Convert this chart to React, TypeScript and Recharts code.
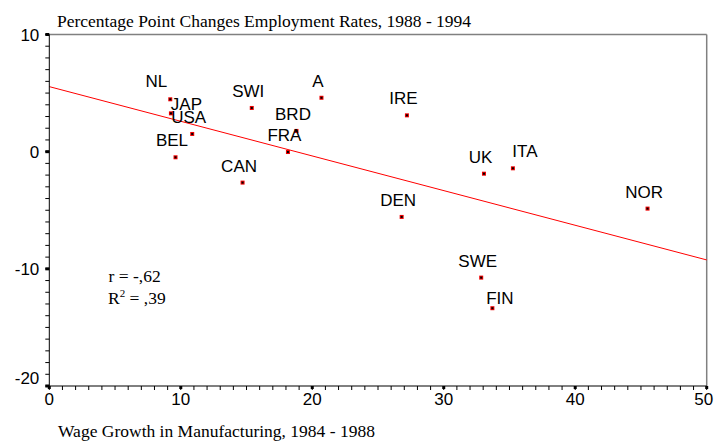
import { ReferenceLine, Scatter, ScatterChart, XAxis, YAxis } from 'recharts';

const countries = ['NL', 'JAP', 'USA', 'BEL', 'SWI', 'A', 'BRD', 'FRA', 'CAN', 'IRE', 'DEN', 'UK', 'ITA', 'SWE', 'FIN', 'NOR'];
const wageGrowth = [9.2, 9.25, 10.87, 9.6, 15.4, 20.7, 18.8, 18.15, 14.7, 27.2, 26.8, 33.06, 35.26, 32.85, 33.7, 45.5];
const employmentChange = [4.47, 3.27, 1.51, -0.48, 3.73, 4.6, 1.77, -0.03, -2.64, 3.1, -5.57, -1.88, -1.42, -10.75, -13.36, -4.86];

// fitted line as drawn in the source, read at both ends
const fitLine = [
    { x: 0, y: 5.55 },
    { x: 50, y: -9.24 },
];

const xTicks = Array.from({ length: 51 }, (_, i) => i);
const yTicks = Array.from({ length: 31 }, (_, i) => i - 20);

const points = countries.map((name, i) => ({ name, x: wageGrowth[i], y: employmentChange[i] }));

const SANS = '"Liberation Sans", Arial, sans-serif';
const SERIF = '"Liberation Serif", "Times New Roman", serif';

// where the label sits relative to its marker
const labelNudge: Record<string, [number, number]> = {
    NL: [-14, -12.5],
    JAP: [15.5, -3],
    ITA: [12, -11],
    FIN: [7.5, -4.5],
};

function Marker(props: any) {
    const { cx, cy, payload } = props;
    const [dx, dy] = labelNudge[payload.name] ?? [-3.5, -11];
    return (
        <g>
            <text x={cx + dx} y={cy + dy} textAnchor="middle" fontFamily={SANS} fontSize={17} fill="#000">
                {payload.name}
            </text>
            <rect x={cx - 2} y={cy - 2} width={4} height={4} fill="#f00000" />
            <rect x={cx - 1} y={cy - 1} width={2} height={2} fill="#000" />
        </g>
    );
}

function YTick(props: any) {
    const { x, y, payload } = props;
    if (payload.value % 10 !== 0) return null;
    // bottom label sits a bit above its tick, as in the source
    const lift = payload.value === -20 ? -8 : 0;
    return (
        <g>
            <rect x={x + 6} y={y - 1.5} width={4} height={3} fill="#000" />
            <text x={x} y={y + lift} dy="0.355em" textAnchor="end" fontFamily={SANS} fontSize={17} fill="#000">
                {payload.value}
            </text>
        </g>
    );
}

function XTick(props: any) {
    const { x, y, payload } = props;
    if (payload.value % 10 !== 0) return null;
    // the last label is pulled in a little so it stays inside the frame
    const shift = payload.value === 50 ? -3 : 0;
    return (
        <g>
            <rect x={x - 1.5} y={y - 7} width={3} height={3} fill="#000" />
            <text x={x + shift} y={y} dy="0.71em" textAnchor="middle" fontFamily={SANS} fontSize={17} fill="#000">
                {payload.value}
            </text>
        </g>
    );
}

const serifText = { position: 'absolute' as const, fontFamily: SERIF, fontSize: 17.5, whiteSpace: 'nowrap' as const };

export default function App() {
    return (
        <div style={{ position: 'fixed', left: 0, top: 0, width: 714, height: 441, background: '#fff', overflow: 'hidden' }}>
            <div style={{ ...serifText, left: 57, top: 10.5 }}>Percentage Point Changes Employment Rates, 1988 - 1994</div>
            <ScatterChart width={714} height={441} margin={{ top: 34.5, right: 7.3, bottom: 25, left: 0 }}>
                <XAxis
                    type="number"
                    dataKey="x"
                    domain={[0, 50]}
                    ticks={xTicks}
                    interval={0}
                    allowDataOverflow
                    height={30}
                    axisLine={{ stroke: '#000' }}
                    tickLine={{ stroke: '#000' }}
                    tickSize={4}
                    tickMargin={3}
                    tick={<XTick />}
                />
                <YAxis
                    type="number"
                    dataKey="y"
                    domain={[-20, 10]}
                    ticks={yTicks}
                    interval={0}
                    allowDataOverflow
                    width={49.3}
                    axisLine={{ stroke: '#000' }}
                    tickLine={{ stroke: '#000' }}
                    tickSize={4}
                    tickMargin={6}
                    tick={<YTick />}
                />
                <ReferenceLine y={10} stroke="#808080" strokeWidth={1.5} />
                <ReferenceLine x={50} stroke="#808080" strokeWidth={1.5} />
                <ReferenceLine segment={fitLine} stroke="#ff0000" strokeWidth={1} ifOverflow="visible" />
                <Scatter data={points} shape={<Marker />} isAnimationActive={false} />
            </ScatterChart>
            <div style={{ ...serifText, left: 108.5, top: 266 }}>r = -,62</div>
            <div style={{ ...serifText, left: 108, top: 287.5 }}>
                R<span style={{ fontSize: 11, position: 'relative', top: -7 }}>2</span> = ,39
            </div>
            <div style={{ ...serifText, left: 58, top: 421 }}>Wage Growth in Manufacturing, 1984 - 1988</div>
        </div>
    );
}
